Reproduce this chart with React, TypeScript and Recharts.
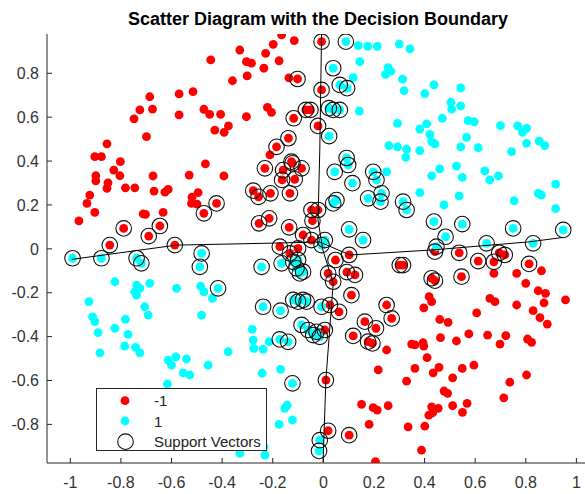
import React from 'react';
import { ScatterChart, Scatter, XAxis, YAxis } from 'recharts';

// [x, y, isSupportVector]
type Pt = [number, number, number];

const classNeg: Pt[] = [
  [-0.165, 0.975, 0], [-0.115, 0.949, 0], [-0.33, 0.906, 0], [-0.198, 0.932, 0], [-0.228, 0.891, 0],
  [-0.304, 0.853, 0], [-0.284, 0.846, 0], [-0.175, 0.857, 0], [-0.445, 0.861, 0], [-0.235, 0.823, 0],
  [-0.301, 0.788, 0], [-0.359, 0.766, 0], [-0.136, 0.779, 0], [-0.515, 0.716, 0], [-0.57, 0.706, 0],
  [-0.686, 0.693, 0], [-0.221, 0.645, 0], [-0.205, 0.622, 0], [-0.725, 0.633, 0], [-0.748, 0.592, 0],
  [-0.675, 0.637, 0], [-0.57, 0.61, 0], [-0.472, 0.636, 0], [-0.449, 0.613, 0], [-0.406, 0.613, 0],
  [-0.304, 0.602, 0], [-0.375, 0.56, 0], [-0.392, 0.531, 0], [-0.429, 0.541, 0], [-0.699, 0.511, 0],
  [-0.855, 0.478, 0], [-0.903, 0.42, 0], [-0.877, 0.42, 0], [-0.802, 0.397, 0], [-0.899, 0.333, 0],
  [-0.899, 0.31, 0], [-0.828, 0.359, 0], [-0.804, 0.333, 0], [-0.673, 0.332, 0], [-0.53, 0.336, 0],
  [-0.466, 0.387, 0], [-0.393, 0.332, 0], [-0.851, 0.301, 0], [-0.855, 0.276, 0], [-0.782, 0.278, 0],
  [-0.745, 0.278, 0], [-0.669, 0.263, 0], [-0.626, 0.258, 0], [-0.613, 0.271, 0], [-0.923, 0.245, 0],
  [-0.495, 0.256, 0], [-0.519, 0.235, 0], [-0.521, 0.207, 0], [-0.499, 0.204, 0], [-0.934, 0.207, 0],
  [-0.903, 0.166, 0], [-0.712, 0.159, 0], [-0.703, 0.157, 0], [-0.633, 0.166, 0], [-0.966, 0.127, 0],
  [-0.211, 0.428, 0],
  [-0.422, 0.207, 1], [-0.472, 0.162, 1], [-0.789, 0.093, 1], [-0.646, 0.104, 1], [-0.69, 0.058, 1],
  [-0.844, 0.017, 1], [-0.587, 0.017, 1], [-0.102, 0.774, 1], [-0.117, 0.595, 1], [-0.138, 0.504, 1],
  [-0.185, 0.465, 1], [-0.231, 0.367, 1], [-0.159, 0.359, 1], [-0.126, 0.397, 1], [-0.163, 0.314, 1],
  [-0.113, 0.317, 1], [-0.277, 0.265, 1], [-0.256, 0.237, 1], [-0.209, 0.253, 1], [-0.132, 0.253, 1],
  [-0.254, 0.116, 1], [-0.214, 0.139, 1], [-0.135, 0.098, 1], [-0.172, 0.01, 1], [-0.007, 0.944, 1],
  [-0.007, 0.724, 1], [-0.051, 0.633, 1], [-0.069, 0.633, 1], [-0.021, 0.56, 1], [-0.122, 0.39, 1],
  [-0.086, 0.367, 1], [-0.047, 0.177, 1], [-0.021, 0.177, 1], [-0.043, 0.128, 1], [-0.08, 0.063, 1],
  [-0.047, 0.04, 1], [-0.132, -0.021, 1], [-0.1, 0.002, 1],
  [0.102, -0.028, 1], [0.048, -0.051, 1], [0.019, -0.112, 1], [0.039, -0.15, 1], [0.125, -0.119, 1],
  [0.093, -0.106, 1], [0.111, -0.211, 1], [0.026, -0.256, 1], [0.062, -0.287, 1], [0.25, -0.256, 1],
  [0.27, -0.317, 1], [0.164, -0.332, 1], [0.208, -0.362, 1], [0.118, -0.397, 1], [0.177, -0.423, 1],
  [0.194, -0.431, 1], [0.01, -0.598, 1], [0.019, -0.829, 1], [0.102, -0.849, 1], [0.302, -0.074, 1],
  [0.315, -0.074, 1], [0.428, -0.134, 1], [0.441, -0.145, 1], [0.537, -0.018, 1], [0.546, -0.127, 1],
  [0.612, -0.056, 1], [0.674, -0.059, 1], [0.695, -0.018, 1], [0.717, -0.028, 1], [0.813, -0.069, 1],
  [0.441, -0.013, 1], [0.006, -0.37, 1],
  [0.674, -0.112, 0], [0.764, -0.112, 0], [0.862, -0.1, 0], [0.8, -0.157, 0], [0.849, -0.191, 0],
  [0.878, -0.203, 0], [0.658, -0.226, 0], [0.678, -0.241, 0], [0.764, -0.256, 0], [0.872, -0.246, 0],
  [0.957, -0.233, 0], [0.418, -0.218, 0], [0.428, -0.241, 0], [0.397, -0.269, 0], [0.606, -0.292, 0],
  [0.46, -0.322, 0], [0.493, -0.335, 0], [0.829, -0.282, 0], [0.856, -0.314, 0], [0.885, -0.343, 0],
  [0.25, -0.461, 0], [0.349, -0.434, 0], [0.362, -0.438, 0], [0.394, -0.428, 0], [0.397, -0.443, 0],
  [0.463, -0.405, 0], [0.526, -0.42, 0], [0.575, -0.388, 0], [0.649, -0.393, 0], [0.721, -0.396, 0],
  [0.698, -0.434, 0], [0.807, -0.411, 0], [0.823, -0.426, 0], [0.41, -0.496, 0], [0.217, -0.552, 0],
  [0.362, -0.545, 0], [0.457, -0.54, 0], [0.434, -0.565, 0], [0.549, -0.545, 0], [0.595, -0.53, 0],
  [0.329, -0.603, 0], [0.511, -0.588, 0], [0.737, -0.608, 0], [0.803, -0.575, 0], [0.477, -0.648, 0],
  [0.491, -0.659, 0], [0.713, -0.679, 0], [0.151, -0.709, 0], [0.197, -0.724, 0], [0.213, -0.735, 0],
  [0.256, -0.715, 0], [0.428, -0.72, 0], [0.417, -0.758, 0], [0.432, -0.747, 0], [0.454, -0.727, 0],
  [0.511, -0.715, 0], [0.568, -0.704, 0], [0.55, -0.745, 0], [0.181, -0.8, 0], [0.335, -0.811, 0],
  [0.401, -0.808, 0], [0.388, -0.917, 0], [0.206, -0.97, 0],
];

const classPos: Pt[] = [
  [0.138, 0.926, 0], [0.175, 0.923, 0], [0.213, 0.923, 0], [0.3, 0.933, 0], [0.342, 0.911, 0],
  [0.144, 0.853, 0], [0.256, 0.826, 0], [0.267, 0.81, 0], [0.246, 0.795, 0], [0.118, 0.78, 0],
  [0.313, 0.773, 0], [0.319, 0.721, 0], [0.437, 0.747, 0], [0.401, 0.707, 0], [0.543, 0.733, 0],
  [0.504, 0.668, 0], [0.507, 0.637, 0], [0.543, 0.651, 0], [0.142, 0.628, 0], [0.47, 0.595, 0],
  [0.572, 0.584, 0], [0.596, 0.579, 0], [0.293, 0.572, 0], [0.408, 0.569, 0], [0.381, 0.546, 0],
  [0.7, 0.561, 0], [0.768, 0.56, 0], [0.803, 0.549, 0], [0.787, 0.531, 0], [0.421, 0.522, 0],
  [0.428, 0.488, 0], [0.441, 0.478, 0], [0.566, 0.508, 0], [0.853, 0.491, 0], [0.875, 0.47, 0],
  [0.803, 0.481, 0], [0.259, 0.47, 0], [0.293, 0.465, 0], [0.329, 0.454, 0], [0.326, 0.417, 0],
  [0.381, 0.447, 0], [0.543, 0.465, 0], [0.612, 0.461, 0], [0.744, 0.443, 0], [0.526, 0.377, 0],
  [0.46, 0.364, 0], [0.428, 0.332, 0], [0.549, 0.326, 0], [0.638, 0.355, 0], [0.658, 0.314, 0],
  [0.692, 0.332, 0], [0.25, 0.351, 0], [0.918, 0.295, 0], [0.381, 0.256, 0], [0.537, 0.241, 0],
  [0.849, 0.253, 0], [0.862, 0.245, 0], [0.754, 0.219, 0], [0.477, 0.2, 0], [0.918, 0.183, 0],
  [0.089, 0.944, 1], [0.039, 0.823, 1], [0.065, 0.747, 1], [0.094, 0.732, 1], [0.039, 0.633, 1],
  [0.065, 0.633, 1], [0.022, 0.641, 1], [0.023, 0.514, 1], [0.098, 0.382, 1], [0.092, 0.414, 1],
  [0.045, 0.351, 1], [0.115, 0.299, 1], [0.197, 0.351, 1], [0.21, 0.314, 1], [0.177, 0.23, 1],
  [0.23, 0.253, 1], [0.226, 0.215, 1], [0.052, 0.222, 1], [0.039, 0.207, 1], [0.315, 0.215, 1],
  [0.329, 0.177, 1], [0.102, 0.089, 1], [0.157, 0.04, 1], [0.437, 0.124, 1], [0.549, 0.113, 1],
  [0.483, 0.055, 1], [0.75, 0.093, 1], [0.948, 0.086, 1], [0.645, 0.025, 1], [0.829, 0.025, 1],
  [0.447, 0.01, 1], [0.006, 0.04, 1], [-0.007, 0.017, 1], [-0.1, -0.051, 1],
  [-0.991, -0.043, 1], [-0.877, -0.043, 1], [-0.738, -0.043, 1], [-0.719, -0.066, 1], [-0.481, -0.021, 1],
  [-0.488, -0.082, 1], [-0.416, -0.18, 1], [-0.244, -0.082, 1], [-0.238, -0.264, 1], [-0.169, -0.282, 1],
  [-0.172, -0.413, 1], [-0.139, -0.424, 1], [-0.122, -0.613, 1], [-0.014, -0.872, 1], [-0.017, -0.921, 1],
  [-0.165, -0.066, 1], [-0.119, -0.059, 1], [-0.106, -0.089, 1], [-0.093, -0.112, 1], [-0.08, -0.104, 1],
  [-0.119, -0.233, 1], [-0.1, -0.241, 1], [-0.08, -0.233, 1], [-0.066, -0.241, 1], [-0.007, -0.264, 1],
  [-0.086, -0.347, 1], [-0.06, -0.37, 1], [-0.04, -0.393, 1], [-0.027, -0.378, 1], [-0.014, -0.401, 1],
  [-0.824, -0.15, 0], [-0.738, -0.165, 0], [-0.725, -0.18, 0], [-0.745, -0.196, 0], [-0.738, -0.211, 0],
  [-0.686, -0.157, 0], [-0.58, -0.18, 0], [-0.485, -0.17, 0], [-0.472, -0.196, 0], [-0.438, -0.226, 0],
  [-0.926, -0.241, 0], [-0.706, -0.264, 0], [-0.692, -0.302, 0], [-0.481, -0.302, 0], [-0.912, -0.31, 0],
  [-0.903, -0.332, 0], [-0.89, -0.382, 0], [-0.782, -0.321, 0], [-0.824, -0.362, 0], [-0.772, -0.39, 0],
  [-0.883, -0.474, 0], [-0.785, -0.443, 0], [-0.742, -0.449, 0], [-0.725, -0.474, 0], [-0.613, -0.507, 0],
  [-0.6, -0.53, 0], [-0.583, -0.492, 0], [-0.541, -0.502, 0], [-0.455, -0.53, 0], [-0.554, -0.565, 0],
  [-0.528, -0.575, 0], [-0.376, -0.469, 0], [-0.281, -0.367, 0], [-0.277, -0.416, 0], [-0.275, -0.454, 0],
  [-0.238, -0.458, 0], [-0.214, -0.423, 0], [-0.616, -0.616, 0], [-0.242, -0.567, 0], [-0.169, -0.549, 0],
  [-0.152, -0.727, 0], [-0.143, -0.712, 0], [-0.175, -0.8, 0], [-0.122, -0.78, 0], [-0.234, -0.902, 0],
  [-0.33, -0.932, 0], [-0.231, -0.94, 0],
];

const boundaryHoriz = [
  [-0.994, -0.048], [-0.58, 0.017], [-0.198, 0.026], [-0.014, 0.031], [0.105, -0.028],
  [0.433, -0.005], [0.816, 0.032], [0.948, 0.052],
];
const boundaryVert = [
  [-0.007, 0.979], [-0.014, 0.45], [-0.021, 0.131], [-0.002, -0.005], [0.039, -0.156],
  [0.01, -0.598], [-0.001, -0.972],
];

const xTicks = [-1, -0.8, -0.6, -0.4, -0.2, 0, 0.2, 0.4, 0.6, 0.8, 1];
const yTicks = [-0.8, -0.6, -0.4, -0.2, 0, 0.2, 0.4, 0.6, 0.8];

const FONT = '"Liberation Sans", Arial, Helvetica, sans-serif';

const toXY = (pts: number[][]) => pts.map((p) => ({ x: p[0], y: p[1] }));
const negData = toXY(classNeg);
const posData = toXY(classPos);
const svData = toXY([...classNeg, ...classPos].filter((p) => p[2] === 1));

const RedDot = (p: any) => <circle cx={p.cx} cy={p.cy} r={4.4} fill="#ff0000" />;
const CyanDot = (p: any) => <circle cx={p.cx} cy={p.cy} r={4.4} fill="#00ffff" />;
const Ring = (p: any) => (
  <circle cx={p.cx} cy={p.cy} r={7.8} fill="none" stroke="#111" strokeWidth={1.1} />
);
const Empty = () => <g />;

const tickStyle = { fill: '#333', fontSize: 16, fontFamily: FONT };

export default function App() {
  return (
    <div style={{ position: 'absolute', left: 0, top: 0, width: 585, height: 494, background: '#fff' }}>
      <div
        style={{
          position: 'absolute', left: 0, top: 9, width: 636, textAlign: 'center',
          fontFamily: FONT, fontWeight: 'bold', fontSize: 18, lineHeight: '20px', color: '#000',
        }}
      >
        Scatter Diagram with the Decision Boundary
      </div>
      <ScatterChart width={585} height={494} margin={{ top: 34, right: 0, bottom: 0, left: 0 }}>
        <XAxis
          type="number" dataKey="x" domain={[-1.092, 1.034]} ticks={xTicks} interval={0}
          allowDataOverflow height={31} tickSize={-5} tickMargin={19} tick={tickStyle}
          axisLine={{ stroke: '#262626' }} tickLine={{ stroke: '#262626' }}
        />
        <XAxis
          xAxisId="top" orientation="top" type="number" dataKey="x" domain={[-1.092, 1.034]}
          ticks={xTicks} interval={0} allowDataOverflow height={0} tickSize={-5}
          tickFormatter={() => ''} axisLine={{ stroke: '#262626' }} tickLine={{ stroke: '#262626' }}
        />
        <YAxis
          type="number" dataKey="y" domain={[-0.976, 0.979]} ticks={yTicks} interval={0}
          allowDataOverflow width={47} tickSize={-5} tickMargin={13} tick={tickStyle}
          axisLine={{ stroke: '#262626' }} tickLine={{ stroke: '#262626' }}
        />
        <Scatter data={negData} shape={RedDot} isAnimationActive={false} />
        <Scatter data={posData} shape={CyanDot} isAnimationActive={false} />
        <Scatter data={svData} shape={Ring} isAnimationActive={false} />
        <Scatter
          data={toXY(boundaryHoriz)} line={{ stroke: '#000', strokeWidth: 1 }} lineType="joint"
          shape={Empty} isAnimationActive={false}
        />
        <Scatter
          data={toXY(boundaryVert)} line={{ stroke: '#000', strokeWidth: 1 }} lineType="joint"
          shape={Empty} isAnimationActive={false}
        />
      </ScatterChart>
      <div
        style={{
          position: 'absolute', left: 96, top: 388, width: 171, height: 63, boxSizing: 'border-box',
          border: '1px solid #262626', background: '#fff', fontFamily: FONT, fontSize: 15, color: '#222',
        }}
      >
        <svg width={171} height={63} style={{ position: 'absolute', left: -1, top: -1 }}>
          <circle cx={29} cy={12.7} r={4.4} fill="#ff0000" />
          <circle cx={29} cy={33} r={4.4} fill="#00ffff" />
          <circle cx={29.5} cy={53.7} r={7.8} fill="none" stroke="#111" strokeWidth={1.1} />
        </svg>
        <div style={{ position: 'absolute', left: 57, top: 2, lineHeight: '20px' }}>-1</div>
        <div style={{ position: 'absolute', left: 57, top: 22.5, lineHeight: '20px' }}>1</div>
        <div style={{ position: 'absolute', left: 57, top: 43, lineHeight: '20px' }}>Support Vectors</div>
      </div>
    </div>
  );
}
